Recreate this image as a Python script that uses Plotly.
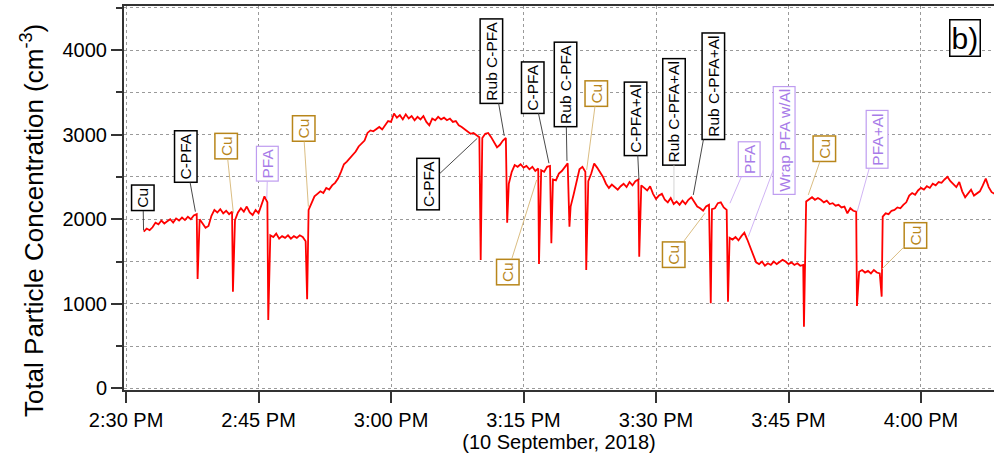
import pandas as pd
import plotly.graph_objects as go

# ---------------- data ----------------
DAY = "2018-09-10"
SERIES_START = "2018-09-10 14:32:00"   # first sample, 20-s sampling
SAMPLE_FREQ = "20s"

conc_values = [
    1855, 1890, 1870, 1905, 1960, 1940, 1985, 1950, 1975, 2000,
    1960, 2010, 1985, 2020, 1990, 2030, 2000, 2045, 2060, 2000,
    1950, 1900, 1920, 2040, 2110, 2080, 2120, 2070, 2100, 2060,
    2090, 1990, 2080, 2130, 2090, 2150, 2080, 2050, 2110, 2070,
    2160, 2270, 2200, 1810, 1790, 1830, 1770, 1800, 1780, 1810,
    1770, 1800, 1780, 1810, 1790, 1740, 2110, 2200, 2270, 2300,
    2330, 2310, 2370, 2350, 2400, 2430, 2480, 2560, 2650, 2680,
    2720, 2770, 2800, 2860, 2890, 2930, 3020, 3050, 3040, 3070,
    3090, 3060, 3110, 3160, 3150, 3250, 3200, 3230, 3180, 3240,
    3190, 3220, 3170, 3210, 3180, 3220, 3150, 3110, 3190, 3170,
    3210, 3180, 3200, 3170, 3190, 3150, 3160, 3110, 3090, 3060,
    3040, 3010, 3020, 2990, 2970, 2960, 3010, 3020, 2970, 2910,
    2850, 2880, 2930, 2960, 2420, 2560, 2640, 2620, 2650, 2610,
    2630, 2590, 2620, 2570, 2600, 2580, 2560, 2620, 2630, 2470,
    2460, 2540, 2570, 2610, 2660, 2150, 2290, 2440, 2590, 2620,
    2560, 2450, 2540, 2660, 2610, 2560, 2500, 2420, 2370, 2410,
    2380, 2350, 2390, 2420, 2380, 2440, 2400, 2450, 2470, 2400,
    2370, 2340, 2390, 2300, 2240, 2280, 2300, 2230, 2200, 2250,
    2180, 2210, 2170, 2220, 2180, 2230, 2260, 2200, 2150, 2130,
    2100, 2150, 2170, 2120, 2130, 2190, 2200, 2140, 2110, 1780,
    1760, 1790, 1750, 1800, 1840, 1760, 1670, 1580, 1490, 1470,
    1500, 1450, 1480, 1460, 1500, 1470, 1490, 1520, 1500, 1470,
    1490, 1460, 1480, 1450, 1460, 2210, 2240, 2260, 2230, 2250,
    2230, 2200, 2220, 2180, 2190, 2160, 2170, 2140, 2150, 2070,
    2130, 2100, 2090, 1380, 1400, 1370, 1390, 1360, 1400, 1370,
    1360, 2030, 2070, 2060, 2100, 2110, 2140, 2130, 2170, 2200,
    2280, 2310, 2290, 2340, 2370, 2350, 2390, 2370, 2420, 2400,
    2440, 2430, 2470, 2500, 2450, 2420, 2380, 2440, 2330, 2260,
    2300, 2350, 2280, 2300, 2330, 2400, 2480, 2380, 2320, 2300,
]

# short dips (minutes after 2:30 PM, value)
spike_minutes = [8.1, 12.1, 16.1, 20.5, 40.15, 43.15, 46.75, 48.15, 50.2,
                 52.1, 58.1, 66.2, 68.15, 76.75, 82.75, 85.55]
spike_values = [1294, 1144, 810, 1054, 1519, 1960, 1472, 1716, 1913,
                1401, 1558, 1007, 1026, 731, 975, 1085]

# event labels: text, kind, minutes after 2:30 PM, value pointed at
ann_labels = ["Cu", "C-PFA", "Cu", "PFA", "Cu", "C-PFA", "Rub C-PFA", "C-PFA",
              "Rub C-PFA", "Cu", "C-PFA+Al", "Rub C-PFA+Al", "Rub C-PFA+Al",
              "Cu", "Cu", "PFA", "Wrap PFA w/Al", "Cu", "PFA+Al", "Cu"]
ann_kinds = ["k", "k", "cu", "pfa", "cu", "k", "k", "k",
             "k", "cu", "k", "k2", "k",
             "cu", "cu", "pfa", "pfa", "cu", "pfa", "cu"]
ann_minutes = [1.98, 7.85, 12.15, 15.93, 20.64, 39.77, 42.82, 47.88,
               49.92, 52.15, 58.07, 62.03, 64.22,
               46.49, 65.54, 68.37, 70.45, 77.24, 82.78, 85.55]
ann_values = [1870, 2090, 2071, 2240, 2149, 2957, 2985, 2662,
              2689, 2583, 2465, 2228, 2287,
              2465, 2071, 2189, 1794, 2287, 2090, 1409]

Y_TITLE = "Total Particle Concentration (cm<sup>-3</sup>)"
X_TITLE = "(10 September, 2018)"
PANEL_LABEL = "b)"

# ---------------- layout constants (pixels) ----------------
ann_offsets = [(-0.5, -32), (-10, -55), (-7, -67), (1, -35), (-5, -78),
               (-49, 46), (-13, -75), (-16, -76), (-1.5, -77), (10, -76.5),
               (-3, -61.5), (0, -88), (20, -109),
               (-29, 92), (-31, 41), (19, -44), (36, -96), (16, -46),
               (20, -72), (34, -34)]

styles = {
    "k":   dict(text="#000000", border="#000000", line="#333333", bw=1.5),
    "k2":  dict(text="#000000", border="#000000", line="#cfcfcf", bw=1.5),
    "cu":  dict(text="#B8861B", border="#B8861B", line="#D6B574", bw=1.5),
    "pfa": dict(text="#A87BE8", border="#BE9CF0", line="#CBABF3", bw=1.2),
}

FONT = "Arial, Liberation Sans, sans-serif"

base = pd.Timestamp(DAY + " 14:30:00")
t_base = pd.date_range(start=SERIES_START, periods=len(conc_values), freq=SAMPLE_FREQ)
df = pd.DataFrame({"t": t_base, "v": conc_values})
sp = pd.DataFrame({"t": base + pd.to_timedelta(spike_minutes, unit="min"),
                   "v": spike_values})
df = pd.concat([df, sp]).sort_values("t").reset_index(drop=True)

fig = go.Figure()
fig.add_trace(go.Scatter(x=df["t"], y=df["v"], mode="lines",
                         line=dict(color="#FF0000", width=1.8),
                         hoverinfo="skip", showlegend=False))

annotations = []
for lab, kind, m, v, (ax, ay) in zip(ann_labels, ann_kinds, ann_minutes,
                                     ann_values, ann_offsets):
    s = styles[kind]
    annotations.append(dict(
        x=base + pd.Timedelta(minutes=m), y=v, xref="x", yref="y",
        text=lab, textangle=-90, showarrow=True, arrowhead=0,
        arrowwidth=0.9, arrowcolor=s["line"], ax=ax, ay=ay,
        font=dict(family=FONT, size=15.5, color=s["text"]),
        bordercolor=s["border"], borderwidth=s["bw"], borderpad=2,
        bgcolor="white",
    ))

annotations.append(dict(
    x=0.9667, y=0.9154, xref="paper", yref="paper", text=PANEL_LABEL,
    showarrow=False, font=dict(family=FONT, size=30, color="black"),
    bordercolor="black", borderwidth=1.5, borderpad=1, bgcolor="white",
    xanchor="center", yanchor="middle",
))

# y-axis title as a rotated paper annotation (sits slightly below centre)
annotations.append(dict(
    x=-0.1057, y=0.440, xref="paper", yref="paper", text=Y_TITLE,
    textangle=-90, showarrow=False, xanchor="center", yanchor="middle",
    font=dict(family=FONT, size=26, color="black"),
))

grid_col = "#9a9a9a"
fig.update_layout(
    width=994, height=463,
    margin=dict(l=124, r=0, t=6, b=73),
    paper_bgcolor="white", plot_bgcolor="white",
    font=dict(family=FONT, size=20, color="black"),
    annotations=annotations,
    xaxis=dict(
        type="date",
        range=[base - pd.Timedelta(seconds=14), base + pd.Timedelta(minutes=98, seconds=16)],
        tick0=base, dtick=15 * 60 * 1000, tickformat="%-I:%M %p",
        ticks="outside", ticklen=11, tickwidth=1.5, tickcolor="#333333",
        showline=True, linecolor="#333333", linewidth=2, mirror=True,
        showgrid=True, gridcolor=grid_col, griddash="dot", gridwidth=1,
        zeroline=False,
        tickfont=dict(family=FONT, size=20, color="black"),
        title=dict(text=X_TITLE, standoff=4,
                   font=dict(family=FONT, size=20, color="black")),
    ),
    yaxis=dict(
        range=[-18, 4520], tick0=0, dtick=1000,
        ticks="outside", ticklen=11, tickwidth=1.5, tickcolor="#333333",
        showline=True, linecolor="#333333", linewidth=2,
        showgrid=True, gridcolor=grid_col, griddash="dot", gridwidth=1,
        minor=dict(dtick=500, ticks="outside", ticklen=6, tickwidth=1.5,
                   tickcolor="#333333", showgrid=True, gridcolor=grid_col,
                   griddash="dot", gridwidth=1),
        zeroline=False,
        tickfont=dict(family=FONT, size=20, color="black"),
    ),
)

fig.write_html("out.html")
